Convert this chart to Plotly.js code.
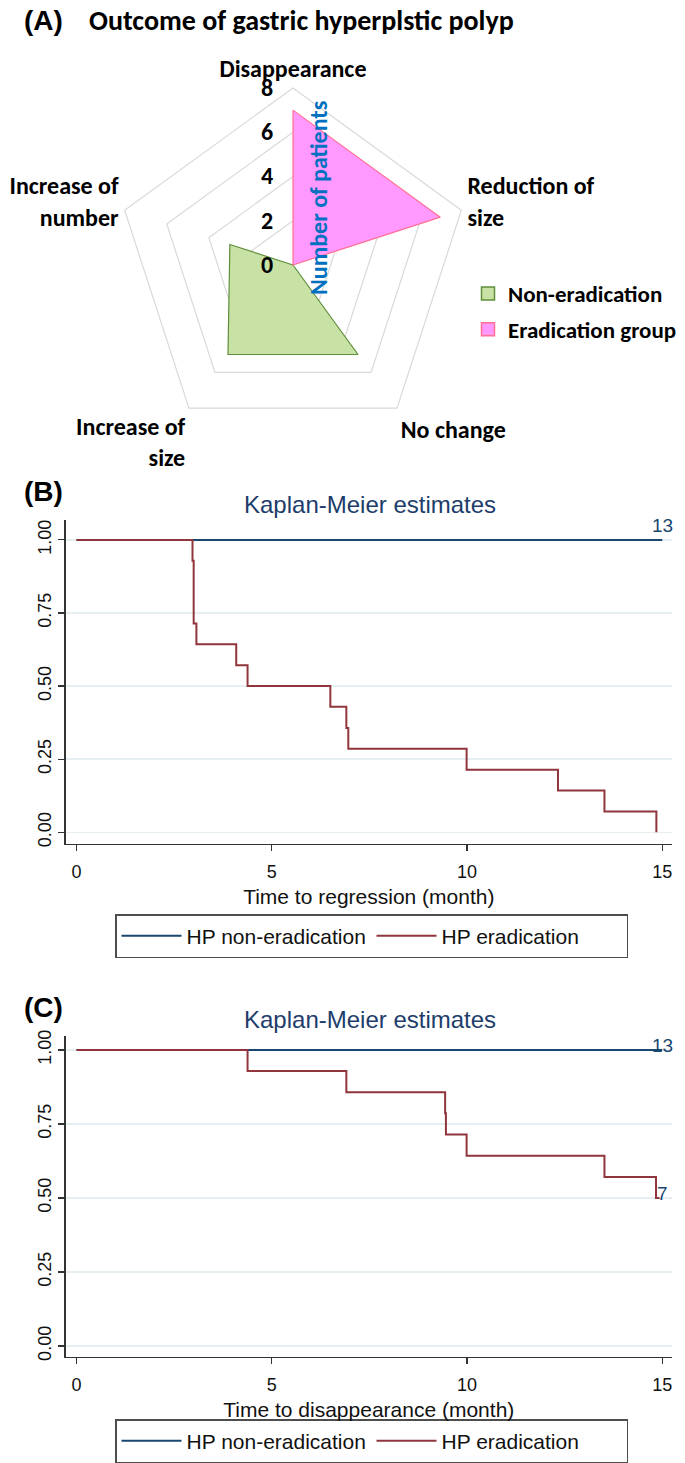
<!DOCTYPE html>
<html>
<head>
<meta charset="utf-8">
<script src="https://cdn.plot.ly/plotly-3.0.1.min.js"></script>
<style>html,body{margin:0;padding:0;background:#fff;}#chart{width:685px;height:1463px;}</style>
</head>
<body>
<div id="chart"></div>
<script>
// ---------- Panel A data (radar) ----------
const radarCategories = ["Disappearance", "Reduction of<br>size", "No change", "Increase of<br>size", "Increase of<br>number"];
const nonEradication = [0, 0, 5, 5, 3];
const eradicationGroup = [7, 7, 0, 0, 0];
const radarTicks = [0, 2, 4, 6, 8];

// ---------- Panel B data (time to regression) ----------
const regTimeNon = [0, 15];
const regSurvNon = [1, 1];
const regTimeErad = [0, 2.97, 3.0, 3.07, 4.09, 4.38, 6.5, 6.91, 6.96, 9.99, 12.33, 13.52, 14.85];
const regSurvErad = [1, 0.929, 0.714, 0.643, 0.571, 0.5, 0.429, 0.357, 0.286, 0.214, 0.143, 0.071, 0];

// ---------- Panel C data (time to disappearance) ----------
const disTimeNon = [0, 15];
const disSurvNon = [1, 1];
const disTimeErad = [0, 4.38, 6.91, 9.44, 9.46, 9.99, 13.52, 14.84, 14.93];
const disSurvErad = [1, 0.929, 0.857, 0.786, 0.714, 0.643, 0.571, 0.5, 0.5];

const kmXTicks = [0, 5, 10, 15];
const kmYTicks = [0, 0.25, 0.5, 0.75, 1];
const kmYTickText = ["0.00", "0.25", "0.50", "0.75", "1.00"];

const close = a => a.concat([a[0]]);

const GREEN_FILL = "#C8E2A6", GREEN_LINE = "#5E8E3A";
const PINK_FILL = "#FF99FF", PINK_LINE = "#FF6F91";
const NAVY = "#1a476f", MAROON = "#90353b";
const CAL = "Carlito, Lato, 'Open Sans', sans-serif";
const ARIAL = "Arial, 'Liberation Sans', Helvetica, sans-serif";

const traces = [
  {type: "scatterpolar", r: close(nonEradication), theta: close(radarCategories), mode: "lines",
   fill: "toself", fillcolor: GREEN_FILL, line: {color: GREEN_LINE, width: 1.2}, showlegend: false, hoverinfo: "skip"},
  {type: "scatterpolar", r: close(eradicationGroup), theta: close(radarCategories), mode: "lines",
   fill: "toself", fillcolor: PINK_FILL, line: {color: PINK_LINE, width: 1.2}, showlegend: false, hoverinfo: "skip"},
  {type: "scatterpolar", r: [null], theta: [radarCategories[0]], mode: "markers", name: "Non-eradication",
   marker: {symbol: "square", size: 13, color: GREEN_FILL, line: {color: GREEN_LINE, width: 1.5}},
   legend: "legend", legendgroup: "g1"},
  {type: "scatterpolar", r: [null], theta: [radarCategories[0]], mode: "markers", name: "Eradication group",
   marker: {symbol: "square", size: 13, color: PINK_FILL, line: {color: PINK_LINE, width: 1.5}},
   legend: "legend", legendgroup: "g2"},

  {type: "scatter", x: regTimeNon, y: regSurvNon, mode: "lines", line: {shape: "hv", color: NAVY, width: 2},
   name: "HP non-eradication", xaxis: "x", yaxis: "y", legend: "legend2"},
  {type: "scatter", x: regTimeErad, y: regSurvErad, mode: "lines", line: {shape: "hv", color: MAROON, width: 2},
   name: "HP eradication", xaxis: "x", yaxis: "y", legend: "legend2"},

  {type: "scatter", x: disTimeNon, y: disSurvNon, mode: "lines", line: {shape: "hv", color: NAVY, width: 2},
   name: "HP non-eradication", xaxis: "x2", yaxis: "y2", legend: "legend3"},
  {type: "scatter", x: disTimeErad, y: disSurvErad, mode: "lines", line: {shape: "hv", color: MAROON, width: 2},
   name: "HP eradication", xaxis: "x2", yaxis: "y2", legend: "legend3"}
];

const H = 1463, W = 685;
const py = v => 1 - v / H;
const px = v => v / W;

function kmX(dom, title, anchor) {
  return {
    domain: dom, anchor: anchor, range: [-0.28, 15.25], tickvals: kmXTicks, ticks: "outside", ticklen: 6,
    tickwidth: 1.2, tickcolor: "#333", showline: true, linecolor: "#333", linewidth: 1.3,
    showgrid: false, zeroline: false, tickfont: {family: ARIAL, size: 18, color: "#111"}, ticklabelstandoff: 5,
    title: {text: title, font: {family: ARIAL, size: 21, color: "#111"}, standoff: 8}, fixedrange: true
  };
}
function kmY(dom, range, anchor) {
  return {
    domain: dom, anchor: anchor, range: range, tickvals: kmYTicks, ticktext: kmYTickText, tickangle: -90,
    ticks: "outside", ticklen: 6, tickwidth: 1.2, tickcolor: "#333", showline: true, linecolor: "#333",
    linewidth: 1.3, showgrid: true, gridcolor: "#e6eef2", gridwidth: 1.5, zeroline: false,
    tickfont: {family: ARIAL, size: 18, color: "#111"}, fixedrange: true
  };
}

const kmLegend = (yv, anchor) => ({
  orientation: "h", x: px(115), y: yv, xanchor: "left", yanchor: anchor,
  bordercolor: "#4d4d4d", borderwidth: 1.5, bgcolor: "#fff", itemwidth: 60, entrywidth: 180,
  font: {family: ARIAL, size: 21, color: "#111"}, itemclick: false, itemdoubleclick: false
});

const layout = {
  width: W, height: H, margin: {l: 0, r: 0, t: 0, b: 0}, paper_bgcolor: "#fff", plot_bgcolor: "#fff",
  showlegend: true,
  polar: {
    domain: {x: [px(293 - 177), px(293 + 177)], y: [py(265 + 177), py(265 - 177)]},
    gridshape: "linear", bgcolor: "#fff", hole: 0,
    angularaxis: {rotation: 90, direction: "clockwise", showline: true, linecolor: "#d9d9d9", linewidth: 1.2,
      showgrid: false, ticks: "outside", ticklen: 1, tickcolor: "rgba(0,0,0,0)",
      tickfont: {family: CAL, size: 24, color: "#000", weight: "bold"}},
    radialaxis: {range: [0, 8], tickvals: radarTicks, angle: 90, side: "counterclockwise", tickangle: 90,
      showline: false, showgrid: true, gridcolor: "#d9d9d9", gridwidth: 1.2, ticks: "outside", ticklen: 11,
      tickcolor: "rgba(0,0,0,0)", tickfont: {family: CAL, size: 24, color: "#000", weight: "bold"}}
  },
  legend: {x: px(468), y: py(272), xanchor: "left", yanchor: "top", bgcolor: "rgba(0,0,0,0)",
    font: {family: CAL, size: 23, color: "#000", weight: "bold"}, tracegroupgap: 3, itemclick: false},
  legend2: kmLegend(py(914), "top"),
  legend3: kmLegend(0, "bottom"),
  xaxis: kmX([px(65.6), px(672)], "Time to regression (month)", "y"),
  yaxis: kmY([py(844), py(520)], [-0.04, 1.068], "x"),
  xaxis2: kmX([px(65.6), px(672)], "Time to disappearance (month)", "y2"),
  yaxis2: kmY([py(1357), py(1036)], [-0.037, 1.047], "x2"),
  annotations: [
    {xref: "paper", yref: "paper", x: px(22), y: py(20), xanchor: "left", yanchor: "middle", showarrow: false,
     text: "<b>(A)</b>", font: {family: ARIAL, size: 28, color: "#000"}},
    {xref: "paper", yref: "paper", x: px(87), y: py(20), xanchor: "left", yanchor: "middle", showarrow: false,
     text: "<b>Outcome of gastric hyperplstic polyp</b>", font: {family: CAL, size: 28, color: "#000"}},
    {xref: "paper", yref: "paper", x: px(318), y: py(198), xanchor: "center", yanchor: "middle", showarrow: false,
     textangle: -90, text: "<b>Number of patients</b>", font: {family: CAL, size: 24, color: "#0070C0"}},
    {xref: "paper", yref: "paper", x: px(22), y: py(491), xanchor: "left", yanchor: "middle", showarrow: false,
     text: "<b>(B)</b>", font: {family: ARIAL, size: 28, color: "#000"}},
    {xref: "paper", yref: "paper", x: px(370), y: py(504), xanchor: "center", yanchor: "middle", showarrow: false,
     text: "Kaplan-Meier estimates", font: {family: ARIAL, size: 24, color: "#1e3d6b"}},
    {xref: "x", yref: "y", x: 15, y: 1, xanchor: "center", yanchor: "bottom", yshift: 2, showarrow: false,
     text: "13", font: {family: ARIAL, size: 19, color: NAVY}},
    {xref: "paper", yref: "paper", x: px(22), y: py(1007), xanchor: "left", yanchor: "middle", showarrow: false,
     text: "<b>(C)</b>", font: {family: ARIAL, size: 28, color: "#000"}},
    {xref: "paper", yref: "paper", x: px(370), y: py(1019), xanchor: "center", yanchor: "middle", showarrow: false,
     text: "Kaplan-Meier estimates", font: {family: ARIAL, size: 24, color: "#1e3d6b"}},
    {xref: "x2", yref: "y2", x: 15, y: 1, xanchor: "center", yanchor: "middle", yshift: 4, showarrow: false,
     text: "13", font: {family: ARIAL, size: 19, color: NAVY}},
    {xref: "x2", yref: "y2", x: 15, y: 0.5, xanchor: "center", yanchor: "middle", yshift: 4, showarrow: false,
     text: "7", font: {family: ARIAL, size: 19, color: NAVY}}
  ]
};

Plotly.newPlot("chart", traces, layout, {staticPlot: true, displayModeBar: false});
</script>
</body>
</html>
